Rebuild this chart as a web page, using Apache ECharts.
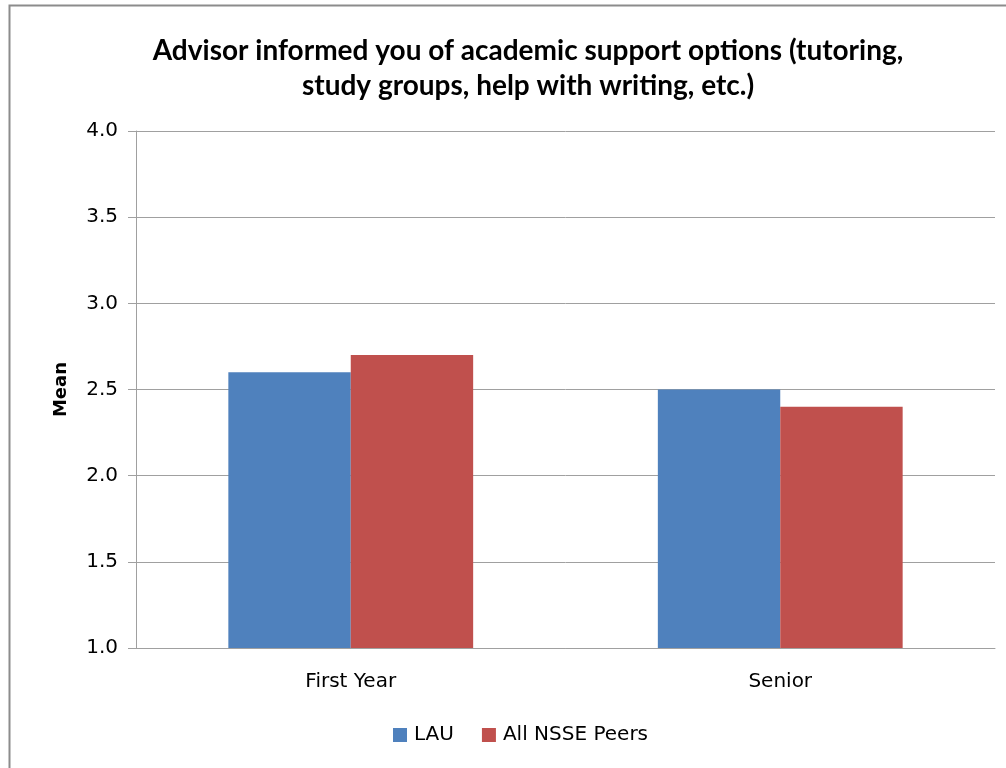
<!DOCTYPE html>
<html>
<head>
<meta charset="utf-8">
<script src="https://cdn.jsdelivr.net/npm/echarts@6/dist/echarts.min.js"></script>
<style>
  html, body { margin: 0; padding: 0; background: #fff; }
  #main { width: 1006px; height: 768px; }
</style>
</head>
<body>
<div id="main"></div>
<script>
var categories = ['First Year', 'Senior'];
var lauValues = [2.6, 2.5];
var peerValues = [2.7, 2.4];
var seriesNames = ['LAU', 'All NSSE Peers'];
var yTicks = { min: 1.0, max: 4.0, step: 0.5 };

var chart = echarts.init(document.getElementById('main'));

var option = {
  backgroundColor: '#ffffff',
  animation: false,
  color: ['#4f81bd', '#c0504d'],
  title: {
    text: 'Advisor informed you of academic support options (tutoring,\nstudy groups, help with writing, etc.)',
    left: 523,
    top: 28,
    textAlign: 'center',
    textStyle: {
      fontFamily: 'Lato',
      fontSize: 28,
      fontWeight: 'bold',
      color: '#000',
      lineHeight: 35
    }
  },
  graphic: [{
    // chart frame (only left and top visible in crop)
    type: 'rect',
    shape: { x: 9.5, y: 5.5, width: 1100, height: 900 },
    style: { fill: 'none', stroke: '#8c8c8c', lineWidth: 2 },
    silent: true
  }],
  legend: {
    data: seriesNames,
    bottom: 18,
    left: 388,
    itemWidth: 14,
    itemHeight: 14,
    itemGap: 28,
    icon: 'rect',
    textStyle: { fontFamily: 'DejaVu Sans', fontSize: 20, color: '#000', padding: [0, 0, 0, 2] }
  },
  grid: {
    left: 136,
    right: 11,
    top: 131,
    bottom: 120
  },
  xAxis: {
    type: 'category',
    data: categories,
    axisLine: { lineStyle: { color: '#a0a0a0', width: 1 } },
    axisTick: { show: false },
    axisLabel: {
      fontFamily: 'DejaVu Sans',
      fontSize: 20,
      color: '#000',
      margin: 24
    }
  },
  yAxis: {
    type: 'value',
    min: yTicks.min,
    max: yTicks.max,
    interval: yTicks.step,
    name: 'Mean',
    nameLocation: 'middle',
    nameGap: 66,
    nameRotate: 90,
    nameTextStyle: { fontFamily: 'DejaVu Sans', fontSize: 18, fontWeight: 'bold', color: '#000' },
    axisLine: { show: true, lineStyle: { color: '#a0a0a0' } },
    axisTick: { show: true, inside: false, length: 8, lineStyle: { color: '#a0a0a0' } },
    splitLine: { lineStyle: { color: '#a0a0a0' } },
    axisLabel: {
      fontFamily: 'DejaVu Sans',
      fontSize: 20,
      color: '#000',
      margin: 18,
      formatter: function (v) { return v.toFixed(1); }
    }
  },
  series: [{
    name: seriesNames[0],
    type: 'bar',
    data: lauValues,
    barGap: '0%',
    barCategoryGap: '43%'
  }, {
    name: seriesNames[1],
    type: 'bar',
    data: peerValues,
    barGap: '0%',
    barCategoryGap: '43%'
  }]
};

chart.setOption(option);
</script>
</body>
</html>
